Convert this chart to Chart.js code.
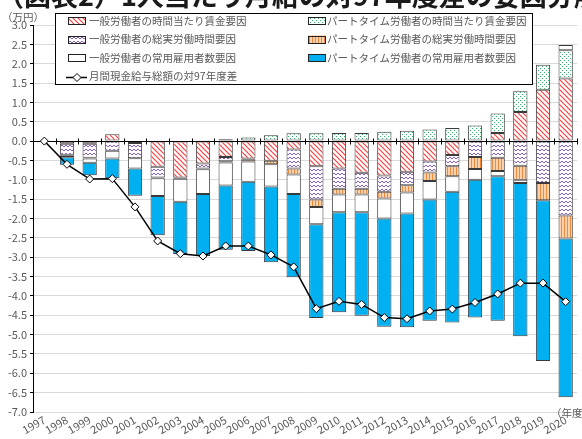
<!DOCTYPE html>
<html>
<head>
<meta charset="utf-8">
<script src="https://cdn.jsdelivr.net/npm/chart.js@4.4.0/dist/chart.umd.min.js"></script>
<style>
html, body { margin: 0; padding: 0; background: #fff; }
</style>
</head>
<body>
<canvas id="chart1" width="582" height="439"></canvas>
<script>
// 年度
var years = ['1997','1998','1999','2000','2001','2002','2003','2004','2005','2006','2007','2008',
             '2009','2010','2011','2012','2013','2014','2015','2016','2017','2018','2019','2020'];

// 要因 (万円)
var genWage   = [0, -0.07, -0.07, 0.18, -0.05, -0.66, -0.94, -0.58, -0.41, -0.45, -0.51, -0.22,
                 -0.65, -0.71, -0.82, -0.89, -0.79, -0.53, -0.36, 0, 0.21, 0.75, 1.33, 1.62];
var partWage  = [0, 0, 0, 0, 0, 0, 0, 0.02, 0.05, 0.09, 0.15, 0.2,
                 0.2, 0.21, 0.21, 0.24, 0.27, 0.3, 0.34, 0.4, 0.5, 0.54, 0.64, 0.73];
var genHours  = [0, -0.28, -0.36, -0.25, -0.39, -0.28, -0.03, -0.13, -0.11, -0.02, 0, -0.49,
                 -0.86, -0.52, -0.41, -0.42, -0.35, -0.28, -0.29, -0.41, -0.43, -0.64, -1.08, -1.92];
var partHours = [0, -0.03, -0.02, 0, 0, -0.02, 0, -0.02, -0.03, -0.06, -0.09, -0.15,
                 -0.19, -0.15, -0.15, -0.17, -0.19, -0.22, -0.26, -0.31, -0.34, -0.36, -0.45, -0.6];
var genEmp    = [0, -0.04, -0.11, -0.2, -0.27, -0.46, -0.6, -0.64, -0.6, -0.52, -0.57, -0.51,
                 -0.45, -0.46, -0.46, -0.52, -0.54, -0.48, -0.4, -0.28, -0.14, -0.08, 0, 0.13];
var partEmp   = [0, -0.19, -0.32, -0.51, -0.7, -1.01, -1.35, -1.6, -1.66, -1.79, -1.96, -2.15,
                 -2.42, -2.58, -2.67, -2.8, -2.94, -3.13, -3.38, -3.56, -3.73, -3.96, -4.15, -4.1];
// 月間現金給与総額の対97年度差
var totalDiff = [0, -0.6, -0.98, -0.97, -1.7, -2.58, -2.91, -2.97, -2.71, -2.71, -2.94, -3.25,
                 -4.33, -4.14, -4.22, -4.56, -4.59, -4.39, -4.34, -4.17, -3.95, -3.67, -3.67, -4.15];

var yTicksMin = -7, yTicksMax = 3, yStep = 0.5;

var textColor = '#595959';
var jpFont = "'Noto Sans CJK JP', sans-serif";

function makePattern(w, h, draw){
    var c = document.createElement('canvas');
    c.width = w; c.height = h;
    var g = c.getContext('2d');
    draw(g, w, h);
    return c.getContext('2d').createPattern(c, 'repeat');
}

var redHatch = makePattern(5, 5, function(g){
    g.fillStyle = '#fff'; g.fillRect(0, 0, 5, 5);
    g.strokeStyle = '#ff4040'; g.lineWidth = 1.2;
    g.beginPath();
    g.moveTo(-1, -1); g.lineTo(6, 6);
    g.moveTo(-1, 4); g.lineTo(1, 6);
    g.moveTo(4, -1); g.lineTo(6, 1);
    g.stroke();
});
var purpleWave = makePattern(8, 4, function(g){
    g.fillStyle = '#fff'; g.fillRect(0, 0, 8, 4);
    g.strokeStyle = '#8a5cc4'; g.lineWidth = 1;
    g.beginPath();
    g.moveTo(0, 3); g.lineTo(2, 1); g.lineTo(4, 3); g.lineTo(6, 1); g.lineTo(8, 3);
    g.stroke();
});
var greenDots = makePattern(4, 4, function(g){
    g.fillStyle = '#fff'; g.fillRect(0, 0, 4, 4);
    g.fillStyle = '#2fb36a';
    g.fillRect(0, 0, 1, 1);
    g.fillRect(2, 2, 1, 1);
});
var orangeStripe = makePattern(3, 1, function(g){
    g.fillStyle = '#fcd3ae'; g.fillRect(0, 0, 3, 1);
    g.fillStyle = '#f0893a'; g.fillRect(0, 0, 1, 1);
});

function barSet(label, data, fill){
    return {
        type: 'bar',
        label: label,
        data: data,
        backgroundColor: fill,
        borderColor: '#3a3a3a',
        borderWidth: 1,
        borderSkipped: false,
        barPercentage: 0.63,
        categoryPercentage: 1,
        order: 1,
        yAxisID: 'y'
    };
}

var decor = {
    id: 'decor',
    beforeDatasetDraw: function(chart, args){
        if(args.index !== 0) return;
        // 0 の横軸と目盛
        var ctx = chart.ctx, x = chart.scales.x, y = chart.scales.y;
        var y0 = Math.round(y.getPixelForValue(0)) + 0.5;
        var half = (x.getPixelForValue(1) - x.getPixelForValue(0)) / 2;
        ctx.save();
        ctx.strokeStyle = '#000';
        ctx.lineWidth = 1;
        ctx.beginPath();
        ctx.moveTo(chart.chartArea.left, y0);
        ctx.lineTo(chart.chartArea.right, y0);
        for(var i = 0; i <= years.length; i++){
            var xx = Math.round(x.getPixelForValue(i) - half) + 0.5;
            ctx.moveTo(xx, y0 - 3);
            ctx.lineTo(xx, y0 + 3);
        }
        ctx.stroke();
        ctx.restore();
    },
    afterDraw: function(chart){
        var ctx = chart.ctx;
        var ds = chart.data.datasets;
        ctx.save();
        // タイトル (上端で切れている)
        ctx.fillStyle = '#1a1a1a';
        ctx.font = 'bold 27px ' + jpFont;
        ctx.textBaseline = 'ideographic';
        ctx.textAlign = 'left';
        ctx.fillText('（図表2）1人当たり月給の対97年度差の要因分解', -3, 9);

        // 単位
        ctx.fillStyle = textColor;
        ctx.font = '10.5px ' + jpFont;
        ctx.textBaseline = 'middle';
        ctx.fillText('（万円）', 2, 17);
        ctx.fillText('（年度）', 551, 413);

        // 凡例
        ctx.fillStyle = '#fff';
        ctx.fillRect(55, 13, 478, 72);
        ctx.strokeStyle = '#000';
        ctx.lineWidth = 1;
        ctx.strokeRect(55.5, 13.5, 477, 71);

        var rows = [21, 39.5, 58, 76.5];
        var left = [1, 3, 5];
        var right = [2, 4, 6];
        ctx.font = '10.5px ' + jpFont;
        function icon(x, yc, d){
            ctx.fillStyle = d.backgroundColor;
            ctx.fillRect(x, yc - 4, 18, 8);
            ctx.strokeStyle = '#222';
            ctx.strokeRect(x + 0.5, Math.round(yc - 4) + 0.5, 17, 7);
        }
        for(var r = 0; r < 3; r++){
            icon(68, rows[r], ds[left[r]]);
            ctx.fillStyle = textColor;
            ctx.fillText(ds[left[r]].label, 89, rows[r]);
            icon(308, rows[r], ds[right[r]]);
            ctx.fillStyle = textColor;
            ctx.fillText(ds[right[r]].label, 327, rows[r]);
        }
        var ly = Math.round(rows[3]) + 0.5;
        ctx.strokeStyle = '#000';
        ctx.lineWidth = 1.5;
        ctx.beginPath(); ctx.moveTo(66, ly); ctx.lineTo(87, ly); ctx.stroke();
        ctx.fillStyle = '#fff';
        ctx.lineWidth = 1;
        ctx.beginPath();
        ctx.moveTo(77, ly - 4); ctx.lineTo(81, ly); ctx.lineTo(77, ly + 4); ctx.lineTo(73, ly);
        ctx.closePath(); ctx.fill(); ctx.stroke();
        ctx.fillStyle = textColor;
        ctx.fillText(ds[0].label, 89, rows[3]);
        ctx.restore();
    }
};

var ctx = document.getElementById('chart1').getContext('2d');
var myChart = new Chart(ctx, {
    data: {
        labels: years,
        datasets: [
            {
                type: 'line',
                label: '月間現金給与総額の対97年度差',
                data: totalDiff,
                borderColor: '#000',
                borderWidth: 1.5,
                pointStyle: 'rectRot',
                pointRadius: 4,
                pointBackgroundColor: '#fff',
                pointBorderColor: '#000',
                pointBorderWidth: 1,
                tension: 0,
                order: 0,
                yAxisID: 'y2'
            },
            barSet('一般労働者の時間当たり賃金要因', genWage, redHatch),
            barSet('パートタイム労働者の時間当たり賃金要因', partWage, greenDots),
            barSet('一般労働者の総実労働時間要因', genHours, purpleWave),
            barSet('パートタイム労働者の総実労働時間要因', partHours, orangeStripe),
            barSet('一般労働者の常用雇用者数要因', genEmp, '#ffffff'),
            barSet('パートタイム労働者の常用雇用者数要因', partEmp, '#00b0f0')
        ]
    },
    options: {
        responsive: false,
        animation: false,
        layout: { padding: { top: 25, right: 2, left: 0, bottom: 0 } },
        plugins: {
            legend: { display: false },
            tooltip: { enabled: false }
        },
        scales: {
            x: {
                stacked: true,
                grid: { display: false, drawTicks: false },
                border: { display: false },
                ticks: {
                    color: textColor,
                    font: { family: jpFont, size: 11 },
                    maxRotation: 30,
                    minRotation: 30,
                    autoSkip: false,
                    padding: 1
                },
                afterFit: function(s){ s.height = 27; }
            },
            y: {
                stacked: true,
                min: yTicksMin,
                max: yTicksMax,
                ticks: {
                    stepSize: yStep,
                    color: textColor,
                    font: { family: jpFont, size: 11 },
                    padding: 3,
                    callback: function(v){ return v.toFixed(1); }
                },
                grid: { color: '#d9d9d9', tickColor: '#000', tickLength: 3 },
                border: { display: true, color: '#000', width: 1 },
                afterFit: function(s){ s.width = 33; }
            },
            y2: {
                display: false,
                min: yTicksMin,
                max: yTicksMax
            }
        }
    },
    plugins: [decor]
});
</script>
</body>
</html>
